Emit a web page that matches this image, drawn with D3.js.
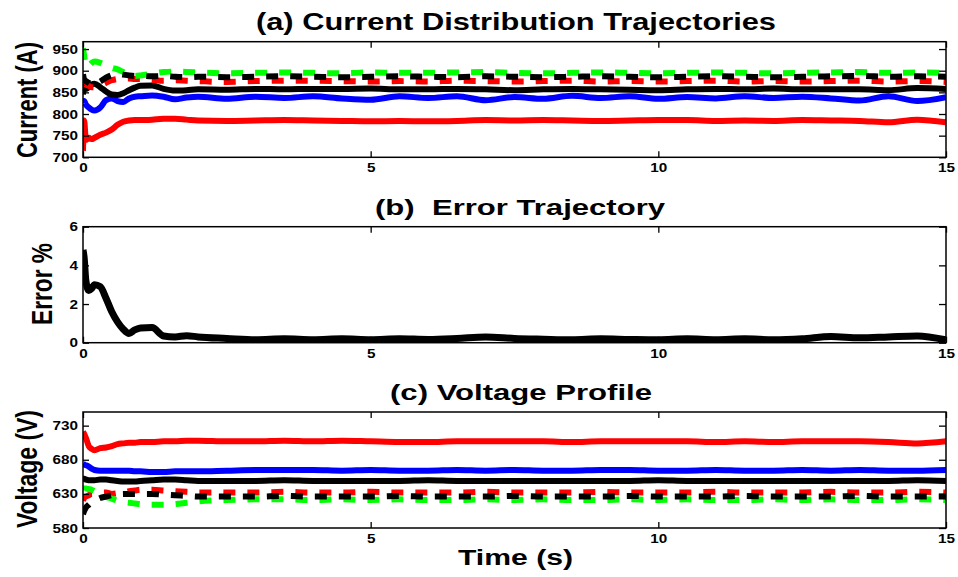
<!DOCTYPE html>
<html>
<head>
<meta charset="utf-8">
<script src="https://cdn.jsdelivr.net/npm/d3@7"></script>
<style>
  html, body { margin: 0; padding: 0; background: #fff; }
  svg { display: block; font-family: "Liberation Sans", Arial, Helvetica, sans-serif; }
</style>
</head>
<body>
<script>
// Sample times (s), shared by every trace
const time = [0,0.02,0.05,0.1,0.15,0.2,0.3,0.4,0.5,0.6,0.7,0.8,0.9,1.0,1.2,1.4,1.6,1.8,2.0,
  2.5,3.0,3.5,4.0,4.5,5.0,5.5,6.0,6.5,7.0,7.5,8.0,8.5,9.0,9.5,10.0,10.5,11.0,11.5,12.0,12.5,13.0,13.5,14.0,14.5,15.0];

// (a) Current distribution (A)
const currentRedSolid = [715,785,740,745,742,745,752,757,764,775,782,785,786,786,787,789,789,787,785,
  784,785,786,785,784,783,784,783,784,786,785,786,785,784,785,786,786,784,785,784,786,785,784,781,787,781];
const currentBlueSolid = [825,830,822,815,810,808,815,832,836,830,828,836,840,841,843,840,834,838,840,
  835,840,837,841,836,833,841,837,841,832,839,835,842,837,841,835,839,836,841,837,840,836,831,841,830,839];
const currentBlackSolid = [845,875,858,862,868,870,862,852,845,844,848,855,861,865,866,858,854,855,857,
  856,858,857,858,858,859,857,857,858,857,855,857,858,857,856,855,857,858,857,859,857,857,857,855,860,858];
const currentRedDashed = [870,872,868,865,862,862,866,872,878,881,882,882,881,881,879,877,878,877,876,
  874,876,877,877,876,875,876,875,877,876,875,876,877,875,876,875,876,877,875,876,875,876,877,875,876,874];
const currentGreenDashed = [952,935,910,912,918,921,918,912,907,903,897,891,888,889,893,897,898,897,896,
  894,895,896,895,894,896,895,895,896,897,895,894,895,896,895,894,895,896,895,894,895,896,897,895,896,895];
const currentBlackDashed = [892,880,876,872,868,868,875,884,890,893,891,889,888,888,887,888,886,885,886,
  885,886,887,886,885,886,887,886,885,887,886,885,886,887,886,885,886,887,886,885,886,887,888,886,887,886];

// (b) Error trajectory (%)
const errorPct = [4.8,4.4,3.2,2.7,2.8,3.0,2.9,2.3,1.6,1.08,0.7,0.48,0.66,0.76,0.78,0.35,0.3,0.36,0.3,
  0.22,0.15,0.2,0.15,0.2,0.15,0.2,0.17,0.22,0.3,0.22,0.18,0.15,0.2,0.17,0.15,0.2,0.15,0.2,0.15,0.2,0.32,0.25,0.3,0.35,0.15];

// (c) Voltage profile (V)
const voltageRedSolid = [721,718,712,700,696,694,697,698,700,703,704,705,705,706,706,707,707,708,708,
  707,707,708,707,708,707,706,706,707,707,707,707,706,707,707,707,707,706,707,706,707,707,707,706,704,707];
const voltageBlueSolid = [674,673,672,670,667,665,664,664,664,664,664,664,663,663,662,662,663,663,663,
  664,665,665,665,664,665,664,664,665,664,665,664,664,665,665,664,664,665,664,664,665,664,665,664,664,665];
const voltageBlackSolid = [652,652,651,650,650,650,651,651,650,649,648,648,648,649,650,651,651,650,649,
  649,649,650,649,649,649,649,650,649,649,649,649,649,649,649,650,649,649,649,649,649,649,649,649,650,649];
const voltageRedDashed = [620,624,626,628,630,630,632,632,630,631,632,634,635,636,636,635,634,633,632,
  632,632,633,632,632,633,632,632,632,633,632,632,632,633,632,632,632,633,632,632,632,633,632,632,633,632];
const voltageGreenDashed = [636,638,638,637,636,634,630,626,623,620,618,617,616,615,614,614,615,617,619,
  621,622,622,621,622,621,622,621,621,622,621,622,621,621,622,621,622,621,621,622,621,622,621,621,622,621];
const voltageBlackDashed = [600,605,610,614,618,620,624,626,628,629,630,630,630,630,630,629,628,627,626,
  626,626,627,626,626,626,627,626,626,626,627,626,626,626,627,626,626,626,627,626,626,626,627,626,626,626];

// Axis ticks
const timeTicks = [0, 5, 10, 15];
const currentTicks = [700, 750, 800, 850, 900, 950];
const errorTicks = [0, 2, 4, 6];
const voltageTicks = [580, 630, 680, 730];

const W = 958, H = 577;
const svg = d3.select("body").append("svg").attr("width", W).attr("height", H);

const x = d3.scaleLinear().domain([0, 15]).range([83, 946]);

function drawPanel(id, top, bottom, domain, yTicks, series, width) {
  const y = d3.scaleLinear().domain(domain).range([bottom, top]);
  const g = svg.append("g");

  g.append("clipPath").attr("id", "clip-" + id)
    .append("rect").attr("x", x(0)).attr("y", top)
    .attr("width", x(15) - x(0)).attr("height", bottom - top);

  const line = d3.line()
    .x((d, i) => x(time[i]))
    .y(d => y(d))
    .curve(d3.curveMonotoneX);

  const plot = g.append("g").attr("clip-path", `url(#clip-${id})`);
  series.forEach(s => {
    plot.append("path")
      .datum(s.values)
      .attr("d", line)
      .attr("fill", "none")
      .attr("stroke", s.color)
      .attr("stroke-width", width)
      .attr("stroke-linejoin", "round")
      .attr("stroke-linecap", "butt")
      .attr("stroke-dasharray", s.dashed ? "12,12" : null);
  });

  const fitDigits = sel => sel.selectAll("text")
    .attr("font-size", 12.5)
    .attr("font-weight", "bold")
    .attr("fill", "#000")
    .attr("textLength", function () { return this.textContent.length * 8.5; })
    .attr("lengthAdjust", "spacingAndGlyphs");

  const bottomAxis = g.append("g").attr("transform", `translate(0,${bottom})`)
    .call(d3.axisBottom(x).tickValues(timeTicks).tickSizeInner(-6).tickSizeOuter(0).tickPadding(6).tickFormat(d3.format("d")));
  const leftAxis = g.append("g").attr("transform", `translate(${x(0)},0)`)
    .call(d3.axisLeft(y).tickValues(yTicks).tickSizeInner(-6).tickSizeOuter(0).tickPadding(5).tickFormat(d3.format("d")));
  const topAxis = g.append("g").attr("transform", `translate(0,${top})`)
    .call(d3.axisTop(x).tickValues(timeTicks).tickSizeInner(-6).tickSizeOuter(0).tickFormat(""));
  const rightAxis = g.append("g").attr("transform", `translate(${x(15)},0)`)
    .call(d3.axisRight(y).tickValues(yTicks).tickSizeInner(-7).tickSizeOuter(0).tickFormat(""));

  [bottomAxis, leftAxis, topAxis, rightAxis].forEach(a => {
    a.select(".domain").remove();
    a.selectAll(".tick line").attr("stroke", "#000").attr("stroke-width", 1.3);
  });
  fitDigits(bottomAxis);
  fitDigits(leftAxis);

  g.append("rect")
    .attr("x", x(0)).attr("y", top)
    .attr("width", x(15) - x(0)).attr("height", bottom - top)
    .attr("fill", "none").attr("stroke", "#000").attr("stroke-width", 1.5);
}

drawPanel("current", 41.7, 157.3, [700, 967], currentTicks, [
  { values: currentRedSolid, color: "#ff0000" },
  { values: currentBlueSolid, color: "#0000ff" },
  { values: currentBlackSolid, color: "#000000" },
  { values: currentRedDashed, color: "#ff0000", dashed: true },
  { values: currentGreenDashed, color: "#00ff00", dashed: true },
  { values: currentBlackDashed, color: "#000000", dashed: true }
], 6);

drawPanel("error", 226.7, 342.7, [0, 6], errorTicks, [
  { values: errorPct, color: "#000000" }
], 7);

drawPanel("voltage", 412, 528, [580, 750], voltageTicks, [
  { values: voltageRedSolid, color: "#ff0000" },
  { values: voltageBlueSolid, color: "#0000ff" },
  { values: voltageBlackSolid, color: "#000000" },
  { values: voltageRedDashed, color: "#ff0000", dashed: true },
  { values: voltageGreenDashed, color: "#00ff00", dashed: true },
  { values: voltageBlackDashed, color: "#000000", dashed: true }
], 6);

// Titles and axis labels
function label(text, cx, cy, size, length, rotate) {
  svg.append("text")
    .attr("transform", `translate(${cx},${cy})` + (rotate ? " rotate(-90)" : ""))
    .attr("text-anchor", "middle")
    .attr("font-size", size)
    .attr("font-weight", "bold")
    .attr("fill", "#000")
    .attr("textLength", length)
    .attr("lengthAdjust", "spacingAndGlyphs")
    .style("white-space", "pre")
    .text(text);
}

label("(a) Current Distribution Trajectories", 516, 29.5, 23, 520, false);
label("(b)  Error Trajectory", 520, 215, 22, 290, false);
label("(c) Voltage Profile", 521, 400, 22, 262, false);
label("Time (s)", 515.5, 565, 22, 115, false);
label("Current (A)", 36.5, 100, 30, 116, true);
label("Error %", 52, 284, 30, 82, true);
label("Voltage (V)", 36.5, 469, 30, 118, true);
</script>
</body>
</html>
